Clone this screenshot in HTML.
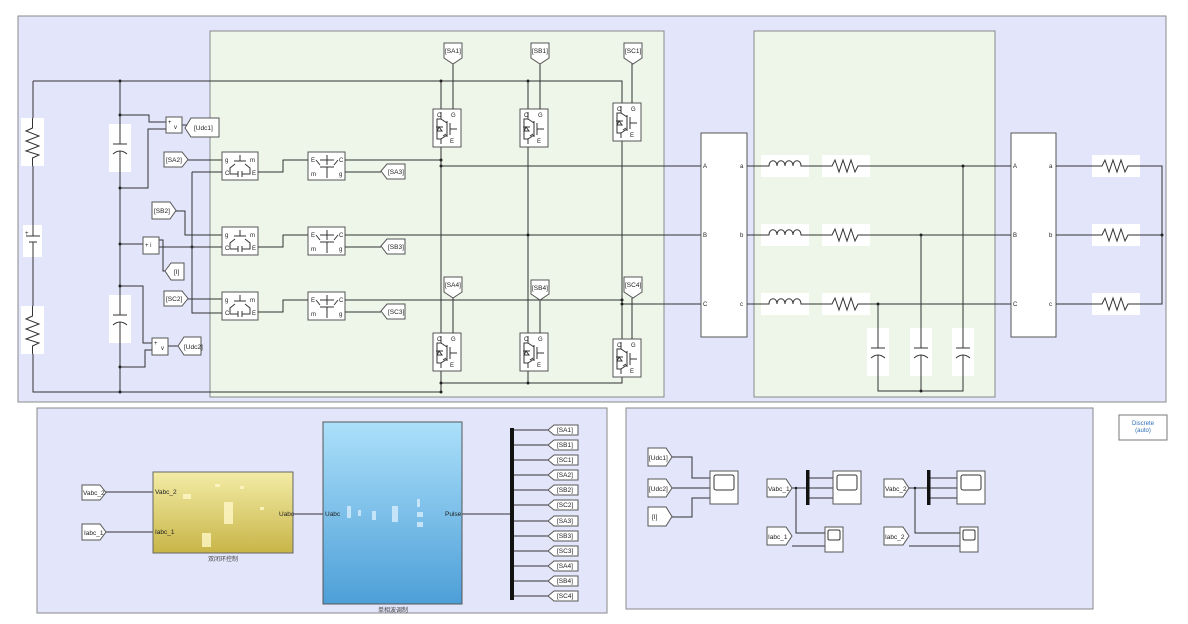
<!DOCTYPE html>
<html><head><meta charset="utf-8"><style>
html,body{margin:0;padding:0;background:#fff;}
svg{display:block;font-family:"Liberation Sans","Noto Sans CJK SC",sans-serif;}
.w{stroke:#333;stroke-width:1;fill:none}
.t{font-size:6px;fill:#222}
.lab{font-size:6.5px;fill:#222}
</style></head><body>
<svg width="1188" height="624" viewBox="0 0 1188 624" xmlns="http://www.w3.org/2000/svg">
<defs>
<linearGradient id="gy" x1="0" y1="0" x2="0" y2="1"><stop offset="0" stop-color="#f3eca6"/><stop offset="1" stop-color="#c8b548"/></linearGradient>
<linearGradient id="gb" x1="0" y1="0" x2="0" y2="1"><stop offset="0" stop-color="#ace0fa"/><stop offset="1" stop-color="#4d9fd8"/></linearGradient>
<g id="igbt">
<rect x="0" y="0" width="28" height="38" fill="#fff" stroke="#555"/>
<path class="w" d="M8 3V10H4V30H8V35 M8 10L14 14V26L8 30 M14 12V28 M17 14V26 M17 20H24 M3 18H10 M6 18L4 22H9Z M10 27L13 25"/>
<text class="t" x="4" y="8" font-size="5">C</text><text class="t" x="18" y="8" font-size="5">G</text><text class="t" x="17" y="34" font-size="5">E</text>
</g>
<g id="b1">
<rect x="0" y="0" width="36" height="28" fill="#fff" stroke="#555"/>
<path class="w" d="M18 3V9 M12 9H24 M13 12L8 16V22H16 M23 12L28 16V22H20 M16 19V25 M20 19V25"/>
<text class="t" x="3" y="10">g</text><text class="t" x="28" y="10">m</text><text class="t" x="3" y="23">C</text><text class="t" x="30" y="23">E</text>
</g>
<g id="b2">
<rect x="0" y="0" width="37" height="28" fill="#fff" stroke="#555"/>
<path class="w" d="M12 8H26 M19 3V13 M12 13L8 8 M26 13L30 8 M12 15H26 M19 15V26"/>
<text class="t" x="3" y="10">E</text><text class="t" x="31" y="10">C</text><text class="t" x="3" y="24">m</text><text class="t" x="31" y="24">g</text>
</g>
<g id="rh"><rect x="0" y="0" width="48" height="22" fill="#fff"/><path class="w" d="M0 11H10L13 5L17 17L21 5L25 17L29 5L33 17L36 11H48"/></g>
<g id="lh"><rect x="0" y="0" width="48" height="22" fill="#fff"/><path class="w" d="M0 11H8 C8 4 16 4 16 11 C16 4 24 4 24 11 C24 4 32 4 32 11 C32 4 40 4 40 11 H48"/></g>
<g id="cv"><rect x="0" y="0" width="22" height="48" fill="#fff"/><path class="w" d="M11 0V20 M4 20H18 M11 27V48 M4 30Q11 24 18 30"/></g>
<g id="rv"><rect x="0" y="0" width="23" height="48" fill="#fff"/><path class="w" d="M11.5 0V10L5 13L18 18L5 23L18 28L5 33L18 37L11.5 40V48"/></g>
<g id="scope"><rect x="0" y="0" width="28" height="33" fill="#fff" stroke="#555"/><rect x="4" y="4" width="20" height="15" rx="2" fill="#fff" stroke="#333"/></g>
<g id="sscope"><rect x="0" y="0" width="18" height="25" fill="#fff" stroke="#555"/><rect x="3" y="3" width="12" height="10" rx="1.5" fill="#fff" stroke="#333"/></g>
</defs>

<!-- panels -->
<rect x="18" y="16" width="1148" height="386" fill="#e3e6fb" stroke="#888"/>
<rect x="210" y="31" width="454" height="366" fill="#eef6ea" stroke="#888"/>
<rect x="754" y="31" width="241" height="366" fill="#eef6ea" stroke="#888"/>
<rect x="37" y="408" width="570" height="205" fill="#e3e6fb" stroke="#888"/>
<rect x="626" y="408" width="467" height="201" fill="#e3e6fb" stroke="#888"/>
<rect x="1119" y="415" width="48" height="25" fill="#fff" stroke="#777"/>
<text x="1143" y="425" text-anchor="middle" font-size="6" fill="#2a6db5">Discrete</text>
<text x="1143" y="432" text-anchor="middle" font-size="6" fill="#2a6db5">(auto)</text>

<!-- left DC side -->
<path class="w" d="M33 81V392H441 M33 81H622V103 M120 81V392 M441 81V109 M528 81V109 M441 147V333 M528 147V333 M622 139V339 M441 369V392 M441 383H622V375 M528 369V383"/>
<use href="#rv" x="21" y="118"/><use href="#rv" x="21" y="306"/>
<rect x="23" y="225" width="19" height="32" fill="#fff"/>
<path class="w" d="M33 225V236 M26 236H40 M29 242H37 M33 242V257"/>
<text class="t" x="25" y="235">+</text>
<use href="#cv" x="109" y="124"/><use href="#cv" x="109" y="295"/>
<g fill="#222"><circle cx="120" cy="81" r="1.5"/><circle cx="120" cy="115" r="1.5"/><circle cx="120" cy="188" r="1.5"/><circle cx="120" cy="244" r="1.5"/><circle cx="120" cy="286" r="1.5"/><circle cx="120" cy="367" r="1.5"/><circle cx="120" cy="392" r="1.5"/><circle cx="192" cy="247" r="1.5"/></g>
<!-- Udc1 meas -->
<path class="w" d="M120 115H149V122H166 M120 188H148V129H166 M182 125H188"/>
<rect x="166" y="117" width="16" height="16" fill="#fff" stroke="#555"/><text class="t" x="168" y="124">+</text><text class="t" x="174" y="129">v</text>
<polygon points="185,128 191,118 219,118 219,137 191,137" fill="#fff" stroke="#555"/><text class="lab" x="194" y="130">[Udc1]</text>
<!-- current meas -->
<path class="w" d="M120 244H143 M159 240H163V271H165 M159 247H222"/>
<rect x="143" y="237" width="16" height="17" fill="#fff" stroke="#555"/><text class="t" x="145" y="247">+ i</text>
<polygon points="165,271 171,263 184,263 184,280 171,280" fill="#fff" stroke="#555"/><text class="lab" x="174" y="274">[I]</text>
<!-- Udc2 meas -->
<path class="w" d="M120 286H143V343H152 M120 367H145V350H152 M168 346H178"/>
<rect x="152" y="338" width="16" height="17" fill="#fff" stroke="#555"/><text class="t" x="154" y="345">+</text><text class="t" x="161" y="350">v</text>
<polygon points="178,346 184,337 201,337 201,355 184,355" fill="#fff" stroke="#555"/><text class="lab" x="184" y="349">[Udc2]</text>
<!-- gate tags left -->
<polygon points="164,152 182,152 188,159.5 182,167 164,167" fill="#fff" stroke="#555"/><text class="lab" x="166" y="162">[SA2]</text>
<polygon points="152,202 170,202 176,210.5 170,219 152,219" fill="#fff" stroke="#555"/><text class="lab" x="154" y="213">[SB2]</text>
<polygon points="164,291 182,291 188,298.5 182,306 164,306" fill="#fff" stroke="#555"/><text class="lab" x="166" y="301">[SC2]</text>
<path class="w" d="M188 160H222 M176 211H185V235H222 M188 299H222 M192 172H222 M192 172V313H222"/>
<!-- blocks rows -->
<g>
<use href="#b1" x="222" y="152"/><use href="#b2" x="308" y="152"/>
<use href="#b1" x="222" y="227"/><use href="#b2" x="308" y="227"/>
<use href="#b1" x="222" y="292"/><use href="#b2" x="308" y="292"/>
</g>
<path class="w" d="M258 172H283V160H308 M258 247H283V235H308 M258 312H283V300H308"/>
<path class="w" d="M345 172H381 M345 247H381 M345 312H381"/>
<polygon points="381,171 387,164 405,164 405,179 387,179" fill="#fff" stroke="#555"/><text class="lab" x="388" y="174">[SA3]</text>
<polygon points="381,246 387,239 405,239 405,254 387,254" fill="#fff" stroke="#555"/><text class="lab" x="388" y="249">[SB3]</text>
<polygon points="381,311 387,304 405,304 405,319 387,319" fill="#fff" stroke="#555"/><text class="lab" x="388" y="314">[SC3]</text>
<path class="w" d="M345 160H441 M441 166H701 M345 235H701 M345 300H622 M622 304H701"/>
<g fill="#222"><circle cx="441" cy="160" r="1.5"/><circle cx="441" cy="166" r="1.5"/><circle cx="528" cy="235" r="1.5"/><circle cx="622" cy="300" r="1.5"/><circle cx="622" cy="304" r="1.5"/><circle cx="441" cy="81" r="1.5"/><circle cx="528" cy="81" r="1.5"/><circle cx="441" cy="392" r="1.5"/><circle cx="441" cy="383" r="1.5"/><circle cx="528" cy="383" r="1.5"/></g>
<!-- IGBTs -->
<use href="#igbt" x="433" y="109"/><use href="#igbt" x="520" y="109"/><use href="#igbt" x="613" y="103"/>
<use href="#igbt" x="433" y="333"/><use href="#igbt" x="520" y="333"/><use href="#igbt" x="613" y="339"/>
<path class="w" d="M453 63V109 M540 63V109 M632 63V103 M453 298V333 M540 298V333 M632 298V339"/>
<polygon points="444,43 462,43 462,58 453,64 444,58" fill="#fff" stroke="#555"/><text class="lab" x="445" y="53">[SA1]</text>
<polygon points="531,43 549,43 549,58 540,64 531,58" fill="#fff" stroke="#555"/><text class="lab" x="532" y="53">[SB1]</text>
<polygon points="624,43 642,43 642,58 633,64 624,58" fill="#fff" stroke="#555"/><text class="lab" x="625" y="53">[SC1]</text>
<polygon points="444,277 462,277 462,292 453,298 444,292" fill="#fff" stroke="#555"/><text class="lab" x="445" y="287">[SA4]</text>
<polygon points="531,280 549,280 549,294 540,300 531,294" fill="#fff" stroke="#555"/><text class="lab" x="532" y="290">[SB4]</text>
<polygon points="624,277 642,277 642,292 633,298 624,292" fill="#fff" stroke="#555"/><text class="lab" x="625" y="287">[SC4]</text>

<!-- transformers -->
<rect x="701" y="133" width="46" height="204" fill="#fff" stroke="#555"/>
<text class="t" x="703" y="168">A</text><text class="t" x="703" y="237">B</text><text class="t" x="703" y="306">C</text>
<text class="t" x="740" y="168">a</text><text class="t" x="740" y="237">b</text><text class="t" x="740" y="306">c</text>
<rect x="1011" y="133" width="45" height="204" fill="#fff" stroke="#555"/>
<text class="t" x="1013" y="168">A</text><text class="t" x="1013" y="237">B</text><text class="t" x="1013" y="306">C</text>
<text class="t" x="1049" y="168">a</text><text class="t" x="1049" y="237">b</text><text class="t" x="1049" y="306">c</text>
<path class="w" d="M747 166H1011 M747 235H1011 M747 304H1011 M1056 166H1162V304H1056 M1056 235H1162"/>
<use href="#lh" x="761" y="155"/><use href="#rh" x="822" y="155"/>
<use href="#lh" x="761" y="224"/><use href="#rh" x="822" y="224"/>
<use href="#lh" x="761" y="293"/><use href="#rh" x="822" y="293"/>
<use href="#rh" x="1092" y="155"/><use href="#rh" x="1092" y="224"/><use href="#rh" x="1092" y="293"/>
<path class="w" d="M878 304V328 M921 235V328 M963 166V328 M878 376V391H963V376 M921 376V391"/>
<use href="#cv" x="867" y="328"/><use href="#cv" x="910" y="328"/><use href="#cv" x="952" y="328"/>
<g fill="#222"><circle cx="878" cy="304" r="1.5"/><circle cx="921" cy="235" r="1.5"/><circle cx="963" cy="166" r="1.5"/><circle cx="921" cy="391" r="1.5"/><circle cx="1162" cy="235" r="1.5"/></g>

<!-- bottom left -->
<polygon points="82,485 100,485 106,492.5 100,500 82,500" fill="#fff" stroke="#555"/><text class="lab" x="83" y="495">Vabc_2</text>
<polygon points="82,524 100,524 106,532 100,540 82,540" fill="#fff" stroke="#555"/><text class="lab" x="84" y="535">Iabc_1</text>
<path class="w" d="M106 492H153 M106 532H153 M293 514H323 M462 514H510"/>
<rect x="153" y="472" width="140" height="81" fill="url(#gy)" stroke="#666"/>
<g fill="#fff8c8" opacity=".8"><rect x="183" y="494" width="8" height="5"/><rect x="224" y="502" width="9" height="22"/><rect x="202" y="533" width="9" height="14"/><rect x="215" y="484" width="5" height="3"/><rect x="240" y="486" width="4" height="3"/><rect x="260" y="507" width="4" height="3"/></g>
<text class="lab" x="155" y="494">Vabc_2</text><text class="lab" x="155" y="534">Iabc_1</text><text class="lab" x="279" y="516">Uabc</text>
<text x="223" y="561" text-anchor="middle" font-size="6" fill="#444">双闭环控制</text>
<rect x="323" y="422" width="139" height="182" fill="url(#gb)" stroke="#555"/>
<g fill="#d8eefc" opacity=".8"><rect x="347" y="506" width="4" height="12"/><rect x="372" y="511" width="4" height="9"/><rect x="392" y="506" width="6" height="16"/><rect x="417" y="499" width="3" height="8"/><rect x="417" y="512" width="6" height="5"/><rect x="417" y="522" width="6" height="5"/><rect x="358" y="510" width="3" height="6"/></g>
<text class="lab" x="325" y="516">Uabc</text><text class="lab" x="445" y="516">Pulse</text>
<text x="393" y="612" text-anchor="middle" font-size="6" fill="#444">单相波调制</text>
<rect x="510" y="428" width="4" height="172" fill="#111"/>
<g class="w">
<path d="M514 430H548 M514 445H548 M514 460H548 M514 475H548 M514 490H548 M514 505H548 M514 521H548 M514 536H548 M514 551H548 M514 566H548 M514 581H548 M514 596H548"/>
</g>
<g fill="#fff" stroke="#555">
<polygon points="548,430 554,425 578,425 578,435 554,435"/><polygon points="548,445 554,440 578,440 578,450 554,450"/><polygon points="548,460 554,455 578,455 578,465 554,465"/><polygon points="548,475 554,470 578,470 578,480 554,480"/><polygon points="548,490 554,485 578,485 578,495 554,495"/><polygon points="548,505 554,500 578,500 578,510 554,510"/><polygon points="548,521 554,516 578,516 578,526 554,526"/><polygon points="548,536 554,531 578,531 578,541 554,541"/><polygon points="548,551 554,546 578,546 578,556 554,556"/><polygon points="548,566 554,561 578,561 578,571 554,571"/><polygon points="548,581 554,576 578,576 578,586 554,586"/><polygon points="548,596 554,591 578,591 578,601 554,601"/>
</g>
<g class="lab" font-size="6"><text x="557" y="432">[SA1]</text><text x="557" y="447">[SB1]</text><text x="557" y="462">[SC1]</text><text x="557" y="477">[SA2]</text><text x="557" y="492">[SB2]</text><text x="557" y="507">[SC2]</text><text x="557" y="523">[SA3]</text><text x="557" y="538">[SB3]</text><text x="557" y="553">[SC3]</text><text x="557" y="568">[SA4]</text><text x="557" y="583">[SB4]</text><text x="557" y="598">[SC4]</text></g>

<!-- bottom right -->
<g fill="#fff" stroke="#555">
<polygon points="648,448 666,448 672,457 666,466 648,466"/><polygon points="648,479 666,479 672,488 666,497 648,497"/><polygon points="648,507 666,507 672,516.5 666,526 648,526"/>
<polygon points="767,479 786,479 792,488 786,497 767,497"/><polygon points="767,527 786,527 792,536 786,545 767,545"/>
<polygon points="884,479 903,479 909,488 903,497 884,497"/><polygon points="884,527 903,527 909,536 903,545 884,545"/>
</g>
<g class="lab"><text x="649" y="460">[Udc1]</text><text x="649" y="491">[Udc2]</text><text x="652" y="519">[I]</text><text x="768" y="491">Vabc_1</text><text x="768" y="539">Iabc_1</text><text x="885" y="491">Vabc_2</text><text x="885" y="539">Iabc_2</text></g>
<path class="w" d="M672 457H692V478H710 M672 488H710 M672 517H692V498H710 M792 488H806 M796 488V533H825 M792 546H825 M809 478H833 M809 488H833 M809 498H833 M909 488H927 M915 488V533H960 M909 546H960 M930 478H957 M930 488H957 M930 498H957"/>
<use href="#scope" x="710" y="471"/><use href="#scope" x="833" y="471"/><use href="#scope" x="957" y="471"/>
<use href="#sscope" x="825" y="527"/><use href="#sscope" x="960" y="527"/>
<rect x="806" y="470" width="3.5" height="35" fill="#111"/><rect x="927" y="470" width="3.5" height="35" fill="#111"/>
<g fill="#222"><circle cx="796" cy="488" r="1.3"/><circle cx="915" cy="488" r="1.3"/></g>
</svg>
</body></html>
